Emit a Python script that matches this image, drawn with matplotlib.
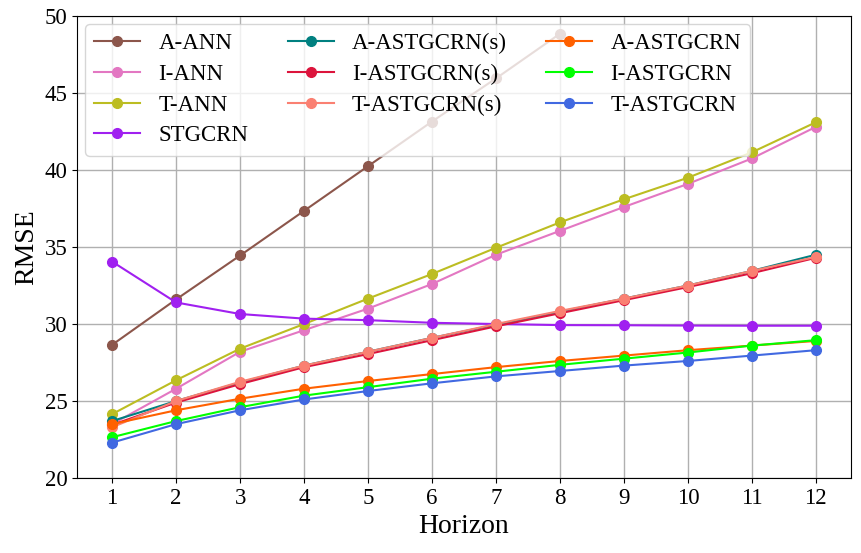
import numpy as np
import matplotlib
matplotlib.use("Agg")
import matplotlib.pyplot as plt

plt.rcParams['font.family'] = ['Liberation Serif', 'DejaVu Serif']

horizon = np.arange(1, 13)

a_ann = [28.65, 31.6, 34.45, 37.35, 40.25, 43.15, 45.95, 48.85]
i_ann = [23.5, 25.8, 28.2, 29.6, 31.0, 32.6, 34.5, 36.05, 37.6, 39.1, 40.75, 42.8]
t_ann = [24.15, 26.35, 28.4, 30.0, 31.65, 33.25, 34.95, 36.6, 38.1, 39.5, 41.15, 43.1]
stgcrn = [34.05, 31.4, 30.65, 30.35, 30.25, 30.08, 30.0, 29.93, 29.92, 29.9, 29.89, 29.89]
a_astgcrn_s = [23.7, 25.0, 26.2, 27.3, 28.2, 29.1, 29.95, 30.8, 31.65, 32.5, 33.45, 34.5]
i_astgcrn_s = [23.45, 24.9, 26.1, 27.2, 28.05, 28.95, 29.85, 30.7, 31.55, 32.4, 33.3, 34.3]
t_astgcrn_s = [23.3, 25.0, 26.25, 27.3, 28.2, 29.1, 30.0, 30.85, 31.65, 32.5, 33.45, 34.35]
a_astgcrn = [23.5, 24.4, 25.15, 25.8, 26.3, 26.75, 27.2, 27.6, 27.95, 28.3, 28.6, 28.9]
i_astgcrn = [22.65, 23.7, 24.6, 25.35, 25.9, 26.45, 26.9, 27.35, 27.75, 28.15, 28.6, 28.95]
t_astgcrn = [22.3, 23.5, 24.4, 25.1, 25.65, 26.15, 26.6, 26.95, 27.3, 27.6, 27.95, 28.3]

series = [
    ("A-ANN", a_ann, "#8c564b"),
    ("I-ANN", i_ann, "#e377c2"),
    ("T-ANN", t_ann, "#bcbd22"),
    ("STGCRN", stgcrn, "#a020f0"),
    ("A-ASTGCRN(s)", a_astgcrn_s, "#008080"),
    ("I-ASTGCRN(s)", i_astgcrn_s, "#dc143c"),
    ("T-ASTGCRN(s)", t_astgcrn_s, "#fa8072"),
    ("A-ASTGCRN", a_astgcrn, "#ff6000"),
    ("I-ASTGCRN", i_astgcrn, "#00ff00"),
    ("T-ASTGCRN", t_astgcrn, "#4169e1"),
]

fig, ax = plt.subplots(figsize=(8.61, 5.53), dpi=100)
for name, vals, col in series:
    ax.plot(horizon[:len(vals)], vals, marker='o', markersize=7, linewidth=1.5,
            color=col, label=name)

ax.set_xlim(0.45, 12.55)
ax.set_ylim(20, 50)
ax.set_xticks(horizon)
ax.set_yticks(np.arange(20, 51, 5))
ax.tick_params(labelsize=16.5)
ax.grid(True, color='#b0b0b0', linewidth=1)
ax.set_xlabel("Horizon", fontsize=20)
ax.set_ylabel("RMSE", fontsize=20)
ax.legend(ncol=3, fontsize=16.5, loc='upper left', framealpha=0.8,
          handlelength=2.0, columnspacing=1.72, labelspacing=0.42,
          borderaxespad=0.35)

fig.subplots_adjust(left=0.0894, right=0.9884, top=0.971, bottom=0.1356)
fig.savefig("out.png")
